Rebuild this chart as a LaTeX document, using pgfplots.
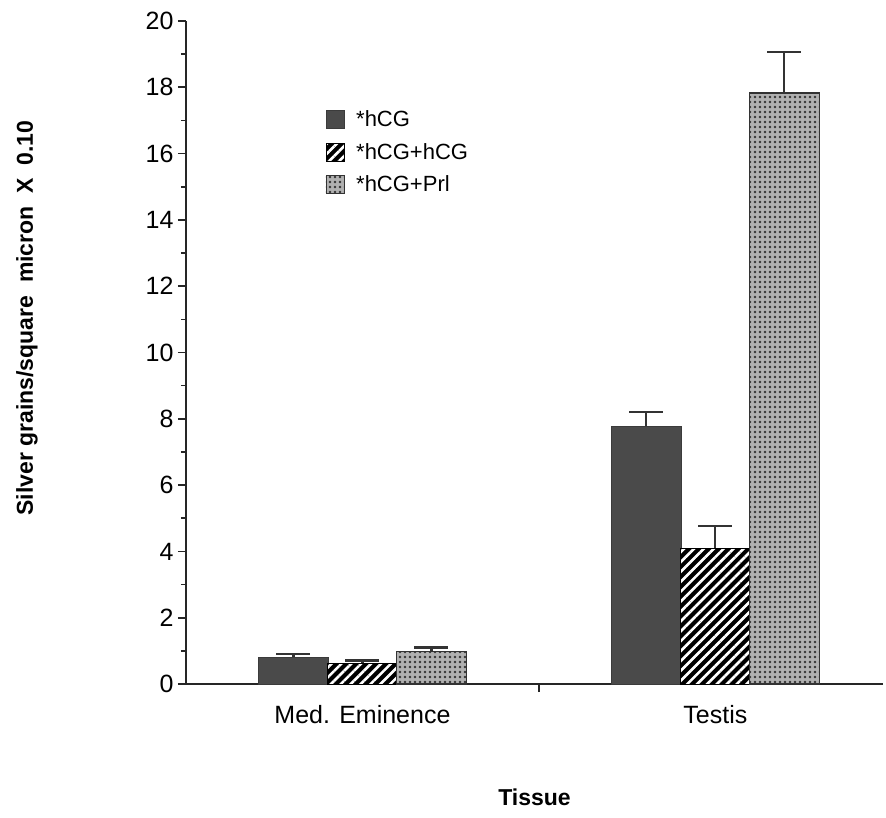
\documentclass[border=0pt]{standalone}
\usepackage{pgfplots}
\pgfplotsset{compat=1.18}
\usepackage{fontspec}
\setmainfont{Liberation Sans}
\usetikzlibrary{patterns.meta}
\definecolor{darkbar}{HTML}{4A4A4A}
\definecolor{lightbar}{HTML}{B0B0B0}
\begin{document}
\begin{tikzpicture}[x=1pt,y=1pt]
\useasboundingbox (0,0) rectangle (886,817);
\begin{axis}[
  at={(186pt,133pt)}, anchor=south west,
  scale only axis, width=697pt, height=663pt,
  xmin=0.5, xmax=2.475, ymin=0, ymax=20,
  axis x line*=bottom, axis y line*=left,
  axis line style={line width=1.6pt, black!85},
  ytick={0,2,...,20}, minor ytick={1,3,...,19},
  xtick={1.5}, xticklabels={},
  extra x ticks={1,2}, extra x tick labels={Med. Eminence,Testis},
  extra x tick style={major tick length=0pt, tick label style={yshift=-18pt}},
  tick align=outside, major tick length=8pt, minor tick length=5pt,
  tick style={line width=1.6pt, black!85},
  /pgf/number format/assume math mode=true,
  tick label style={font=\fontsize{25}{28}\selectfont},
  yticklabel style={xshift=-1pt},
  ylabel={\bfseries Silver grains/square\ \ micron\ \ X\ \ 0.10},
  ylabel style={font=\fontsize{23}{26}\selectfont, at={(axis description cs:0,0.552)}, anchor=center, yshift=159pt},
  xlabel={\bfseries Tissue},
  xlabel style={font=\fontsize{23}{26}\selectfont, at={(axis description cs:0.5,0)}, anchor=center, yshift=-113pt},
  ybar, bar width=70pt,
  legend style={draw=none, fill=none, at={(0.2,0.866)}, anchor=north west,
    font=\fontsize{22}{25}\selectfont, row sep=14pt, cells={anchor=west}, inner sep=0pt,
    nodes={inner sep=0pt}, /tikz/every odd column/.append style={column sep=12pt}},
  legend image code/.code={\draw[#1, line width=0.6pt] (0pt,-9pt) rectangle (18pt,9pt);},
  error bars/y dir=plus, error bars/y explicit,
  error bars/error mark options={rotate=90, mark size=17pt, line width=2.2pt, black!80},
  error bars/error bar style={line width=2.2pt, black!80},
]
\addplot[bar shift=-69pt, fill=darkbar, draw=darkbar!80!black, line width=0.8pt]
  coordinates {(1,0.81) +- (0,0.09) (2,7.78) +- (0,0.42)};
\addplot[bar shift=0pt, fill=black, draw=black, line width=0.8pt,
  postaction={pattern={Lines[angle=45,distance=7pt,line width=2.6pt]}, pattern color=white}]
  coordinates {(1,0.63) +- (0,0.08) (2,4.10) +- (0,0.67)};
\addplot[bar shift=69pt, fill=lightbar, draw=black!80, line width=1.2pt,
  postaction={pattern={Dots[distance=5pt,radius=1.3pt]}, pattern color=black!80}]
  coordinates {(1,0.97) +- (0,0.13) (2,17.83) +- (0,1.24)};
\legend{*hCG,*hCG+hCG,*hCG+Prl}
\end{axis}
\end{tikzpicture}
\end{document}
